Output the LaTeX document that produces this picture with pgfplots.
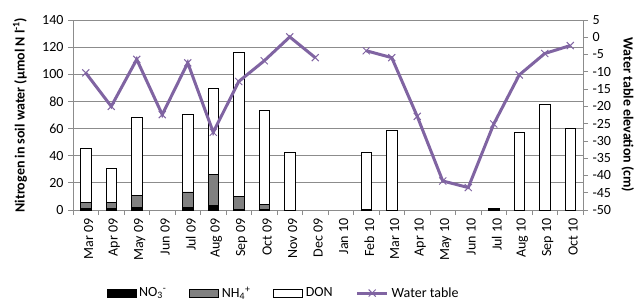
\documentclass[border=0pt]{standalone}
\usepackage{fontspec}
\setmainfont{Carlito}
\usepackage{pgfplots}
\pgfplotsset{compat=1.18}
\definecolor{wt}{RGB}{128,100,162}
\definecolor{nh}{RGB}{128,128,128}
\definecolor{gridc}{RGB}{140,140,140}
\pgfplotsset{
  barleg/.style={legend image code/.code={\draw[##1] (0bp,-4bp) rectangle (29bp,4bp);}},
  lineleg/.style={legend image code/.code={\draw[mark repeat=2,mark phase=2,##1] plot coordinates {(0bp,0bp) (15bp,0bp) (30bp,0bp)};}},
}
\begin{document}
\begin{tikzpicture}[font=\fontsize{14bp}{16bp}\selectfont]
\path[use as bounding box] (-73bp,-91bp) rectangle (566bp,210bp);
\begin{axis}[
  at={(0,0)}, anchor=south west,
  scale only axis, width=510bp, height=190bp,
  xmin=-0.5, xmax=19.5, ymin=0, ymax=140,
  axis x line*=bottom, axis y line*=left,
  axis line style={gridc, line width=0.75bp},
  ytick={0,20,...,140},
  ymajorgrids, grid style={gridc, line width=0.75bp},
  xtick={0,...,19},
  xticklabels={Mar 09,Apr 09,May 09,Jun 09,Jul 09,Aug 09,Sep 09,Oct 09,Nov 09,Dec 09,Jan 10,Feb 10,Mar 10,Apr 10,May 10,Jun 10,Jul 10,Aug 10,Sep 10,Oct 10},
  minor xtick={-0.5,0.5,...,19.5},
  major x tick style={draw=none},
  tick align=outside,
  tick style={gridc, line width=0.75bp},
  major tick length=5bp, minor tick length=5bp,
  x tick label style={rotate=90, anchor=east, yshift=-3bp},
  y tick label style={xshift=-1bp},
  /pgf/number format/assume math mode=true,
  ylabel={\bfseries Nitrogen in soil water (µmol N l\textsuperscript{-1})},
  ylabel style={at={(axis description cs:-0.104,0.5)}, anchor=center},
  legend style={at={(axis description cs:0.414,-0.437)}, anchor=center, draw=none, fill=none,
    legend columns=4, /tikz/every even column/.append style={column sep=20bp},
    nodes={inner xsep=3bp}},
  legend cell align=left,
]
\addlegendimage{draw=black, fill=black, barleg}
\addlegendentry{NO\textsubscript{3}\textsuperscript{-}}
\addlegendimage{draw=black, fill=nh, barleg}
\addlegendentry{NH\textsubscript{4}\textsuperscript{+}}
\addlegendimage{draw=black, fill=white, barleg}
\addlegendentry{DON}
\addlegendimage{wt, line width=3bp, mark=x, mark size=5bp, mark options={line width=1bp}, lineleg}
\addlegendentry{Water table}
% total (DON top)
\addplot[ybar, bar width=10.5bp, bar shift=0pt, draw=black, fill=white, line width=0.9bp, forget plot]
  coordinates {(0,45.7) (1,30.9) (2,67.9) (4,70.4) (5,89.6) (6,116.3) (7,73.6) (8,42.5) (11,42.4) (12,58.3) (17,56.8) (18,78) (19,60.2)};
% NH4 top (NO3 + NH4)
\addplot[ybar, bar width=10.5bp, bar shift=0pt, draw=black, fill=nh, line width=0.9bp, forget plot]
  coordinates {(0,5.7) (1,5.2) (2,10.9) (4,13.3) (5,26.2) (6,9.9) (7,4.2)};
% NO3
\addplot[ybar, bar width=10.5bp, bar shift=0pt, draw=black, fill=black, line width=0.9bp, forget plot]
  coordinates {(0,0.8) (1,0.8) (2,2.2) (4,1.7) (5,3.5) (6,0.5) (7,0.5) (11,0.4) (16,1.3)};
\end{axis}
\begin{axis}[
  at={(0,0)}, anchor=south west,
  scale only axis, width=510bp, height=190bp,
  xmin=-0.5, xmax=19.5, ymin=-50, ymax=5,
  axis x line=none, axis y line*=right,
  axis line style={gridc, line width=0.75bp},
  ytick={-50,-45,...,5},
  tick align=outside,
  tick style={gridc, line width=0.75bp},
  major tick length=5bp,
  y tick label style={xshift=1bp},
  /pgf/number format/assume math mode=true,
  ylabel={\bfseries Water table elevation (cm)},
  ylabel style={at={(axis description cs:1.088,0.5)}, anchor=center, rotate=180},
  unbounded coords=jump,
  clip=false,
]
\addplot[wt, line width=3bp, mark=x, mark size=5bp, mark options={line width=1bp}]
  coordinates {(0,-10.3) (1,-20) (2,-6.4) (3,-22.4) (4,-7.4) (5,-27.5) (6,-12.8) (7,-6.8) (8,0.1) (9,-5.9) (10,nan) (11,-3.9) (12,-5.9) (13,-22.9) (14,-41.6) (15,-43.5) (16,-25.1) (17,-10.9) (18,-4.7) (19,-2.4)};
\end{axis}
\end{tikzpicture}
\end{document}
